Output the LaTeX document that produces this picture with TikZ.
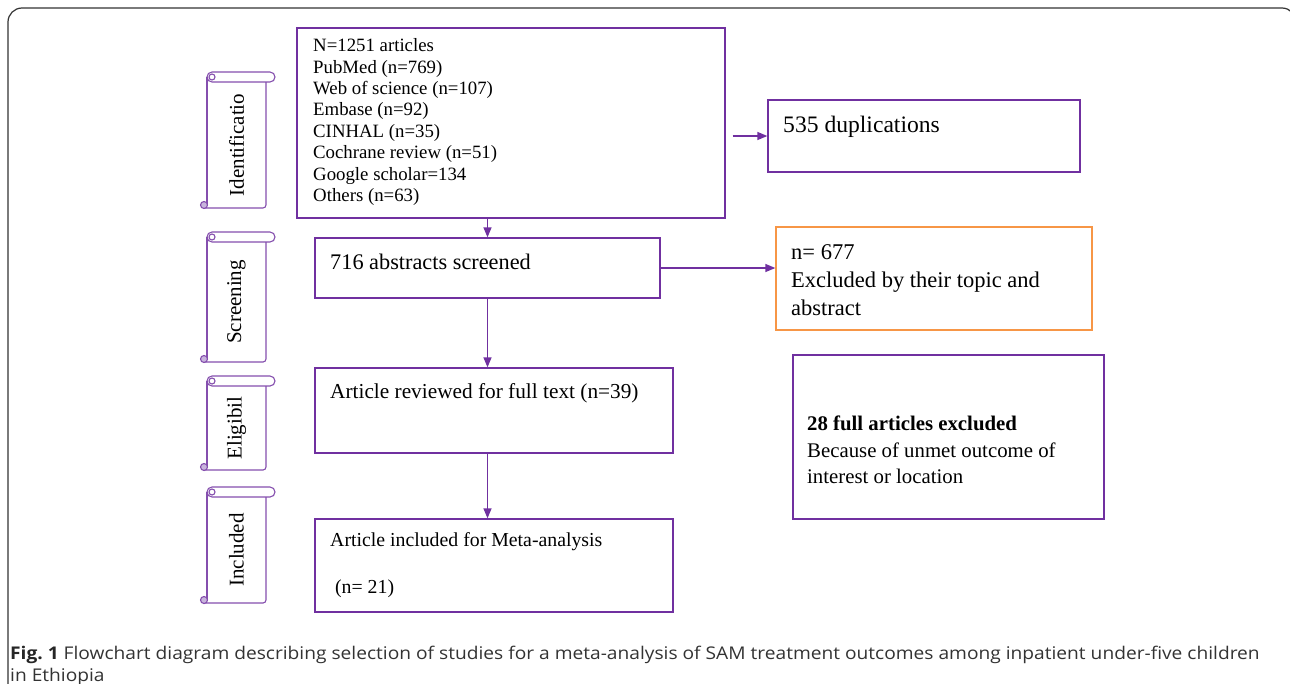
\documentclass[tikz,border=0pt]{standalone}
\usepackage{fontspec}
\setmainfont{Liberation Serif}
\newfontfamily\capfont{Open Sans}
\usetikzlibrary{arrows.meta,calc}
\definecolor{pur}{HTML}{7030A0}
\definecolor{org}{HTML}{F79646}
\definecolor{scrollfill}{HTML}{C8B4DC}
\definecolor{capgray}{HTML}{333333}
\newcommand{\myscroll}[4]{% left, top, height, label
  \begin{scope}[shift={(#1,#2)}]
    \draw[scr, rounded corners=5pt] (0,0) rectangle (68,10);
    \draw[scr] (0,5) -- (0,#3-3);
    \draw[scr, rounded corners=3pt] (59,10) -- (59,#3) -- (-3,#3);
    \draw[scr, fill=scrollfill] (-3,#3-3) circle (3.5);
    \draw[scr] (5,5) circle (3);
    \node[scrtxt] at (29.5,{(#3+10)/2}) {#4};
  \end{scope}}
\begin{document}
\begin{tikzpicture}[x=1pt,y=-1pt,
  box/.style={draw=pur, line width=1.3pt, rectangle, inner sep=0pt},
  obox/.style={draw=org, line width=1.3pt, rectangle, inner sep=0pt},
  arr/.style={draw=pur, line width=1.3pt, -{Triangle[length=10pt,width=8pt]}},
  txt/.style={anchor=north west, align=left, inner sep=0pt},
  scr/.style={draw=pur!85, line width=1.1pt},
  scrtxt/.style={rotate=90, inner sep=0pt, font=\fontsize{21}{24}\selectfont},
  captxt/.style={anchor=base west, inner sep=0pt, text=capgray, font=\capfont\fontsize{17.5}{24}\selectfont},
]
\useasboundingbox (0,0) rectangle (1290,683);
\fill[white] (0,0) rectangle (1290,683);
\begin{scope}
  \clip (0,0) rectangle (1290,683);
  \draw[line width=1.2pt, black!80, rounded corners=14pt] (8,720) -- (8,8) -- (1296,8) -- (1296,720);
\end{scope}

% scrolls
\myscroll{207}{72}{136}{Identificatio}
\myscroll{207}{232}{130}{Screening}
\myscroll{207}{376}{94}{Eligibil}
\myscroll{207}{487}{116}{Included}

% boxes
\node[box, minimum width=428pt, minimum height=190pt] (b1) at (511,123) {};
\node[box, minimum width=312pt, minimum height=72pt] (dup) at (924,136) {};
\node[box, minimum width=345pt, minimum height=60pt] (b2) at (487.5,268) {};
\node[obox, minimum width=316pt, minimum height=103pt] (ex1) at (934,278.5) {};
\node[box, minimum width=358pt, minimum height=85pt] (b3) at (494,410.5) {};
\node[box, minimum width=311pt, minimum height=164pt] (ex2) at (948.5,437) {};
\node[box, minimum width=358pt, minimum height=93pt] (b4) at (494,565.5) {};

% texts
\node[txt, font=\fontsize{18.8}{21.4}\selectfont] (t1) at (313,38.4) {N=1251 articles\\PubMed (n=769)\\Web of science (n=107)\\Embase (n=92)\\CINHAL (n=35)\\Cochrane review (n=51)\\Google scholar=134\\Others (n=63)};
\node[txt, font=\fontsize{23.6}{28}\selectfont] (t2) at (783,116) {535 duplications};
\node[txt, font=\fontsize{22.3}{28}\selectfont] (t3) at (330,254.3) {716 abstracts screened};
\node[txt, font=\fontsize{22.5}{28}\selectfont] (t4) at (791,244) {n= 677\\Excluded by their topic and\\abstract};
\node[txt, font=\fontsize{21.3}{24}\selectfont] (t5) at (330,383.5) {Article reviewed for full text (n=39)};
\node[txt, font=\fontsize{19.8}{47}\selectfont] (t6) at (330,532) {Article included for Meta-analysis\\\ (n= 21)};
\node[txt, font=\fontsize{20.8}{26.5}\selectfont] (t7) at (807,415.7) {\textbf{28 full articles excluded}\\Because of unmet outcome of\\interest or location};

% arrows
\draw[arr] ([xshift=7pt]b1.east |- dup.west) -- (dup.west);
\draw[arr] (b2.north |- b1.south) -- (b2.north);
\draw[arr] (b2.east) -- (b2.east -| ex1.west);
\draw[arr] (b2.south) -- (b2.south |- b3.north);
\draw[arr] (b2.south |- b3.south) -- (b2.south |- b4.north);

% caption
\node[captxt] (cap1) at (10,659) {\scalebox{1.095}[1]{\textbf{\color{black!85}Fig.~1} Flowchart diagram describing selection of studies for a meta-analysis of SAM treatment outcomes among inpatient under-five children}};
\node[captxt] (cap2) at (10,681) {\scalebox{1.095}[1]{in Ethiopia}};
\end{tikzpicture}
\end{document}
